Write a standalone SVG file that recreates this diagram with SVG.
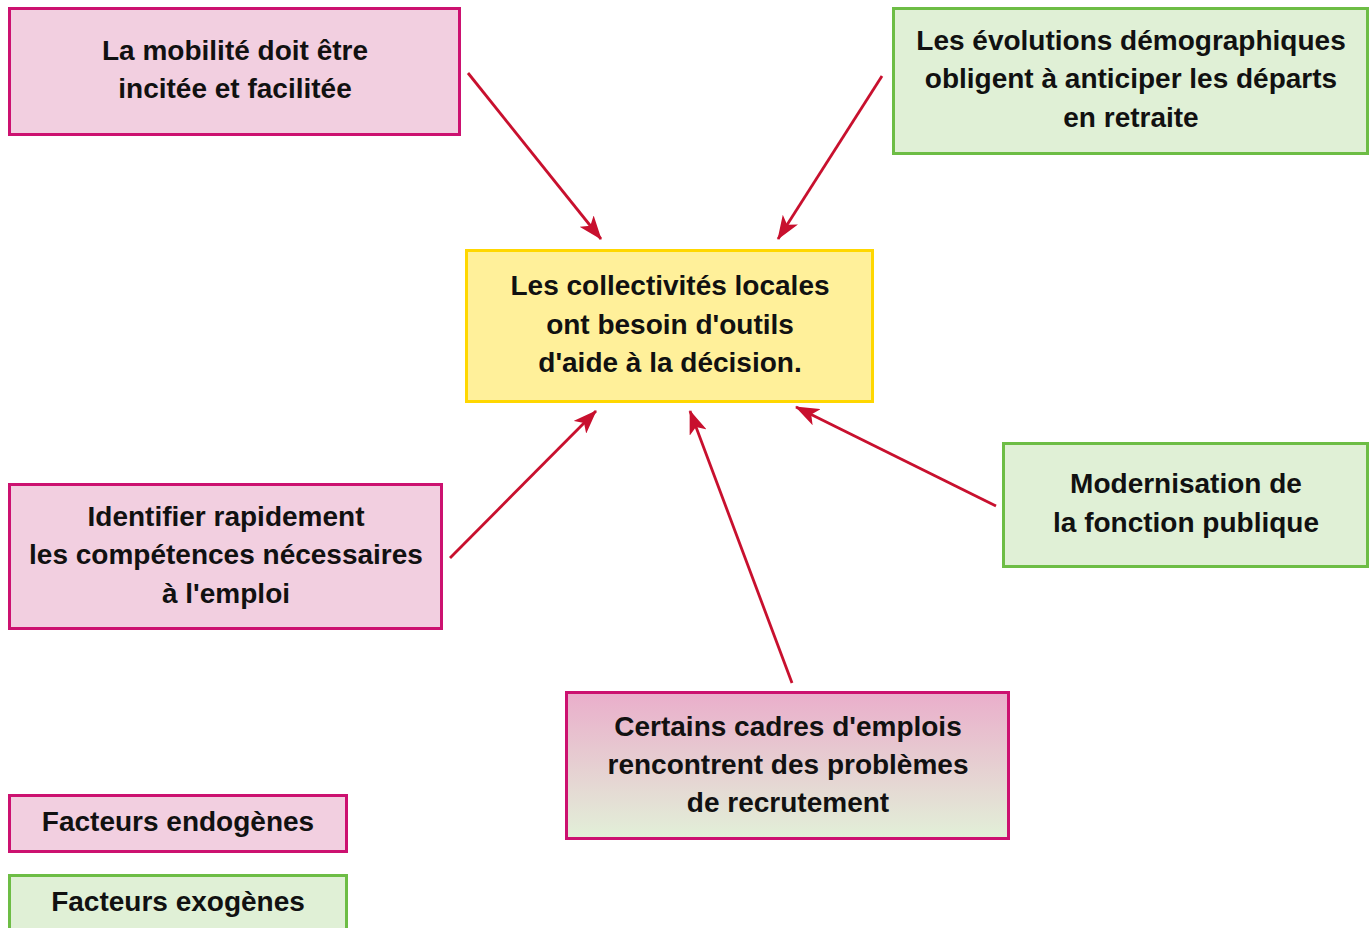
<svg xmlns="http://www.w3.org/2000/svg" width="1372" height="928" viewBox="0 0 1372 928">
<style>
.t{font-family:"Liberation Sans",Arial,sans-serif;font-weight:bold;font-size:28px;fill:#111;text-anchor:middle}
.pink{fill:#f2cfe0;stroke:#cc1170;stroke-width:3}
.green{fill:#e0f0d6;stroke:#6dbd45;stroke-width:3}
.yellow{fill:#fff09a;stroke:#ffd700;stroke-width:3}
.grad{fill:url(#g);stroke:#cc1170;stroke-width:3}
.c{stroke:#c8102e;stroke-width:2.8;fill:none;marker-end:url(#ah)}
</style>
<defs>
<linearGradient id="g" x1="0" y1="0" x2="0" y2="1">
<stop offset="0" stop-color="#eaaecb"/>
<stop offset="1" stop-color="#e2f0d8"/>
</linearGradient>
<marker id="ah" viewBox="0 0 24 18" refX="23" refY="9" markerWidth="24" markerHeight="18" markerUnits="userSpaceOnUse" orient="auto">
<path d="M0,0 L24,9 L0,18 L6,9 Z" fill="#c8102e"/>
</marker>
</defs>
<rect width="1372" height="928" fill="#fff"/>
<g id="connectors">
<line class="c" x1="468" y1="73" x2="601" y2="239"/>
<line class="c" x1="882" y1="76" x2="778" y2="239"/>
<line class="c" x1="450" y1="558" x2="596" y2="411"/>
<line class="c" x1="792" y1="683" x2="690" y2="411"/>
<line class="c" x1="996" y1="506" x2="796" y2="407"/>
</g>
<g id="n1"><rect class="pink" x="9.5" y="8.5" width="450" height="126"/>
<text class="t" x="235" y="60">La mobilité doit être</text><text class="t" x="235" y="98">incitée et facilitée</text></g>
<g id="n2"><rect class="green" x="893.5" y="8.5" width="474" height="145"/>
<text class="t" x="1131" y="50">Les évolutions démographiques</text><text class="t" x="1131" y="88">obligent à anticiper les départs</text><text class="t" x="1131" y="127">en retraite</text></g>
<g id="center"><rect class="yellow" x="466.5" y="250.5" width="406" height="151"/>
<text class="t" x="670" y="295">Les collectivités locales</text><text class="t" x="670" y="334">ont besoin d'outils</text><text class="t" x="670" y="372">d'aide à la décision.</text></g>
<g id="n4"><rect class="pink" x="9.5" y="484.5" width="432" height="144"/>
<text class="t" x="226" y="526">Identifier rapidement</text><text class="t" x="226" y="564">les compétences nécessaires</text><text class="t" x="226" y="603">à l'emploi</text></g>
<g id="n5"><rect class="green" x="1003.5" y="443.5" width="364" height="123"/>
<text class="t" x="1186" y="493">Modernisation de</text><text class="t" x="1186" y="532">la fonction publique</text></g>
<g id="n6"><rect class="grad" x="566.5" y="692.5" width="442" height="146"/>
<text class="t" x="788" y="736">Certains cadres d'emplois</text><text class="t" x="788" y="774">rencontrent des problèmes</text><text class="t" x="788" y="812">de recrutement</text></g>
<g id="legend1"><rect class="pink" x="9.5" y="795.5" width="337" height="56"/>
<text class="t" x="178" y="831">Facteurs endogènes</text></g>
<g id="legend2"><rect class="green" x="9.5" y="875.5" width="337" height="60"/>
<text class="t" x="178" y="911">Facteurs exogènes</text></g>
</svg>
